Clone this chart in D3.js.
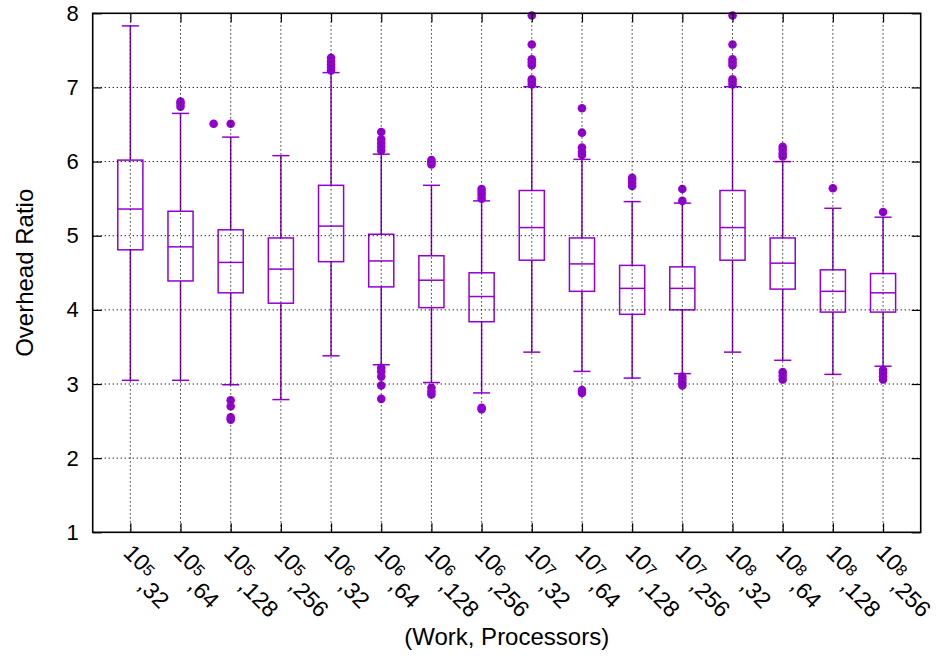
<!DOCTYPE html>
<html>
<head>
<meta charset="utf-8">
<script src="https://cdn.jsdelivr.net/npm/d3@7/dist/d3.min.js"></script>
<style>
  body { margin: 0; background: #fff; }
  text { font-family: "Liberation Sans", Arial, sans-serif; fill: #000; }
</style>
</head>
<body>
<script>
// categories: (work exponent, processors)
var workExp = [5, 5, 5, 5, 6, 6, 6, 6, 7, 7, 7, 7, 8, 8, 8, 8];
var procs = [32, 64, 128, 256, 32, 64, 128, 256, 32, 64, 128, 256, 32, 64, 128, 256];

// box statistics
var lowWhisker = [3.05, 3.05, 2.99, 2.79, 3.38, 3.26, 3.02, 2.88, 3.43, 3.17, 3.08, 3.14, 3.43, 3.32, 3.13, 3.24];
var q1 = [4.81, 4.39, 4.23, 4.09, 4.65, 4.31, 4.03, 3.84, 4.67, 4.25, 3.94, 4.00, 4.67, 4.28, 3.97, 3.97];
var median = [5.36, 4.85, 4.64, 4.55, 5.13, 4.66, 4.40, 4.18, 5.11, 4.62, 4.29, 4.29, 5.11, 4.63, 4.25, 4.23];
var q3 = [6.02, 5.33, 5.08, 4.97, 5.68, 5.02, 4.73, 4.50, 5.61, 4.97, 4.60, 4.58, 5.61, 4.97, 4.54, 4.49];
var highWhisker = [7.83, 6.65, 6.33, 6.08, 7.20, 6.10, 5.68, 5.47, 7.01, 6.03, 5.46, 5.44, 7.01, 6.00, 5.37, 5.25];

var outliers = [
  [],
  [6.74, 6.78, 6.81],
  [6.51, 2.78, 2.70, 2.55, 2.52],
  [],
  [7.23, 7.27, 7.31, 7.35, 7.40],
  [6.15, 6.20, 6.25, 6.30, 6.40, 3.22, 3.17, 3.10, 2.98, 2.80],
  [5.96, 5.99, 6.02, 2.95, 2.90, 2.86],
  [5.50, 5.55, 5.59, 5.63, 2.68, 2.66],
  [7.04, 7.08, 7.11, 7.30, 7.34, 7.38, 7.58, 7.97],
  [6.09, 6.13, 6.19, 6.39, 6.72, 2.92, 2.88],
  [5.67, 5.71, 5.75, 5.78],
  [5.47, 5.63, 3.10, 3.06, 3.02, 2.98],
  [7.04, 7.08, 7.11, 7.30, 7.34, 7.38, 7.58, 7.97],
  [6.07, 6.11, 6.16, 6.20, 3.16, 3.11, 3.06],
  [5.64],
  [5.32, 3.19, 3.15, 3.10, 3.06]
];
// one stray point sitting between the 2nd and 3rd box (position on the x axis, value)
var strayPos = [2.66];
var strayVal = [6.51];

var yTicks = [1, 2, 3, 4, 5, 6, 7, 8];

var purple = "#9400d3";
var W = 936, H = 656;
var margin = {top: 13.3, right: 15.3, bottom: 123.7, left: 92.7};
var width = W - margin.left - margin.right,
    height = H - margin.top - margin.bottom;

var svg = d3.select("body").append("svg")
    .attr("width", W)
    .attr("height", H);

var g = svg.append("g")
    .attr("transform", "translate(" + margin.left + "," + margin.top + ")");

var x = d3.scaleLinear().domain([0.25, workExp.length + 0.75]).range([0, width]);
var y = d3.scaleLinear().domain([1, 8]).range([height, 0]);

var idx = d3.range(workExp.length);
var boxW = x(1.25) - x(1);
var capW = x(1.17) - x(1);

// whiskers
g.selectAll(".whisk").data(idx).enter().append("line")
    .attr("x1", function(i){ return x(i + 1); })
    .attr("x2", function(i){ return x(i + 1); })
    .attr("y1", function(i){ return y(lowWhisker[i]); })
    .attr("y2", function(i){ return y(highWhisker[i]); })
    .attr("stroke", purple).attr("stroke-width", 1.5);

// caps
[lowWhisker, highWhisker].forEach(function(arr){
  g.selectAll(null).data(idx).enter().append("line")
      .attr("x1", function(i){ return x(i + 1) - capW; })
      .attr("x2", function(i){ return x(i + 1) + capW; })
      .attr("y1", function(i){ return y(arr[i]); })
      .attr("y2", function(i){ return y(arr[i]); })
      .attr("stroke", purple).attr("stroke-width", 1.5);
});

// boxes
g.selectAll(".box").data(idx).enter().append("rect")
    .attr("x", function(i){ return x(i + 1) - boxW; })
    .attr("y", function(i){ return y(q3[i]); })
    .attr("width", boxW * 2)
    .attr("height", function(i){ return y(q1[i]) - y(q3[i]); })
    .attr("fill", "#fff")
    .attr("stroke", purple).attr("stroke-width", 1.5);

// medians
g.selectAll(".med").data(idx).enter().append("line")
    .attr("x1", function(i){ return x(i + 1) - boxW; })
    .attr("x2", function(i){ return x(i + 1) + boxW; })
    .attr("y1", function(i){ return y(median[i]); })
    .attr("y2", function(i){ return y(median[i]); })
    .attr("stroke", purple).attr("stroke-width", 1.5);

// outliers
var pts = [];
idx.forEach(function(i){
  outliers[i].forEach(function(v){ pts.push([i + 1, v]); });
});
strayPos.forEach(function(p, k){ pts.push([p, strayVal[k]]); });

g.selectAll(".out").data(pts).enter().append("circle")
    .attr("cx", function(d){ return x(d[0]); })
    .attr("cy", function(d){ return y(d[1]); })
    .attr("r", 4.3)
    .attr("fill", purple);

// grid (drawn on top, like the original)
g.selectAll(".hgrid").data(yTicks.slice(1, -1)).enter().append("line")
    .attr("x1", 0).attr("x2", width)
    .attr("y1", function(d){ return y(d); })
    .attr("y2", function(d){ return y(d); })
    .attr("stroke", "#000").attr("stroke-width", 1)
    .attr("stroke-dasharray", "1.2,2.8");

g.selectAll(".vgrid").data(idx).enter().append("line")
    .attr("x1", function(i){ return x(i + 1); })
    .attr("x2", function(i){ return x(i + 1); })
    .attr("y1", 0).attr("y2", height)
    .attr("stroke", "#000").attr("stroke-width", 1)
    .attr("stroke-dasharray", "1.2,2.8");

// axes with inward ticks
var tickLen = 9;
var yAxisL = d3.axisLeft(y).tickValues(yTicks).tickFormat(d3.format("d")).tickSize(-tickLen).tickPadding(14);
var yAxisR = d3.axisRight(y).tickValues(yTicks).tickSize(-tickLen).tickFormat("");
var xAxisB = d3.axisBottom(x).tickValues(idx.map(function(i){ return i + 1; })).tickSize(-tickLen).tickFormat("");
var xAxisT = d3.axisTop(x).tickValues(idx.map(function(i){ return i + 1; })).tickSize(-tickLen).tickFormat("");

var gyl = g.append("g").call(yAxisL);
g.append("g").attr("transform", "translate(" + width + ",0)").call(yAxisR);
g.append("g").attr("transform", "translate(0," + height + ")").call(xAxisB);
g.append("g").call(xAxisT);

g.selectAll(".domain").remove();
g.selectAll(".tick line").attr("stroke", "#000").attr("stroke-width", 1.2);
gyl.selectAll("text")
    .style("font-size", "22px")
    .style("font-family", "Liberation Sans, Arial, sans-serif");

// frame
g.append("rect")
    .attr("x", 0).attr("y", 0)
    .attr("width", width).attr("height", height)
    .attr("fill", "none")
    .attr("stroke", "#000").attr("stroke-width", 1.6);

// rotated x tick labels: 10^e,p
var lab = g.selectAll(".xlab").data(idx).enter().append("text")
    .attr("transform", function(i){
      return "translate(" + (x(i + 1) - 8) + "," + (height + 22) + ") rotate(45)";
    })
    .style("font-size", "23px");
lab.append("tspan").text("10");
lab.append("tspan").attr("dy", -2).style("font-size", "16px")
    .text(function(i){ return workExp[i]; });
lab.append("tspan").attr("dy", 15).attr("dx", -1)
    .text(function(i){ return "," + procs[i]; });

// axis titles
svg.append("text")
    .attr("transform", "translate(33," + (margin.top + height / 2) + ") rotate(-90)")
    .attr("text-anchor", "middle")
    .style("font-size", "24px")
    .text("Overhead Ratio");

svg.append("text")
    .attr("x", margin.left + width / 2)
    .attr("y", 645)
    .attr("text-anchor", "middle")
    .style("font-size", "24px")
    .text("(Work, Processors)");
</script>
</body>
</html>
